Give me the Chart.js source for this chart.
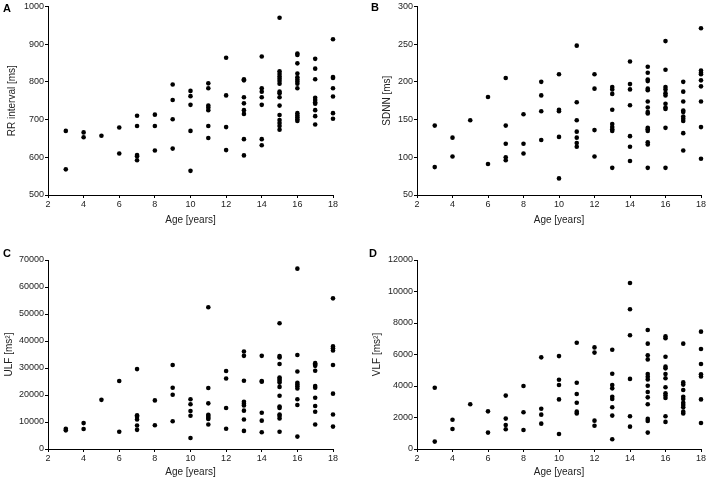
<!DOCTYPE html>
<html>
<head>
<meta charset="utf-8">
<title>HRV by age</title>
<script src="https://cdn.jsdelivr.net/npm/chart.js@4"></script>
<style>
    body { margin: 0; background: #fff; width: 708px; height: 481px; overflow: hidden; position: relative; }
    canvas { position: absolute; }
</style>
</head>
<body>
<canvas id="chartA" width="354" height="240" style="left:0;top:0"></canvas>
<canvas id="chartB" width="354" height="240" style="left:354px;top:0"></canvas>
<canvas id="chartC" width="354" height="241" style="left:0;top:240px"></canvas>
<canvas id="chartD" width="354" height="241" style="left:354px;top:240px"></canvas>
<script>
// ages on the x axis, one entry per column of dots
const ages = [3, 4, 5, 6, 7, 8, 9, 10, 11, 12, 13, 14, 15, 16, 17, 18];
const xTicks = [2, 4, 6, 8, 10, 12, 14, 16, 18];

// values per age (same order as ages)
const rrInterval = [
    [670, 568], [666, 653], [657], [679, 610], [710, 683, 606, 603, 592],
    [713, 683, 618], [793, 752, 701, 623], [776, 762, 739, 670, 564],
    [796, 783, 737, 732, 725, 683, 651], [864, 764, 680, 619],
    [807, 804, 759, 743, 725, 715, 648, 605], [867, 783, 774, 759, 739, 648, 632],
    [970, 828, 821, 814, 808, 802, 795, 774, 770, 759, 737, 712, 699, 691, 683, 673],
    [875, 871, 849, 822, 812, 806, 801, 795, 783, 717, 711, 706, 701, 696],
    [861, 835, 807, 758, 752, 746, 742, 725, 709, 687],
    [913, 813, 810, 783, 761, 717, 702]
];

const sdnn = [
    [142, 87], [126, 101], [149], [180, 91], [205, 142, 118, 100, 96],
    [157, 118, 105], [200, 182, 161, 123], [210, 163, 161, 127, 72],
    [248, 173, 149, 134, 126, 119, 114], [210, 191, 136, 101],
    [193, 190, 184, 163, 144, 140, 137, 135, 86], [227, 197, 190, 169, 128, 114, 95],
    [220, 212, 203, 201, 191, 189, 174, 166, 160, 158, 139, 137, 135, 120, 117, 86],
    [254, 216, 193, 190, 185, 182, 171, 166, 164, 139, 86],
    [200, 187, 174, 162, 160, 154, 151, 148, 132, 109],
    [271, 215, 212, 210, 202, 194, 174, 140, 98]
];

const ulf = [
    [7500, 6900], [9600, 7400], [18200], [25200, 6400], [29600, 12500, 11900, 10900, 8700, 7100],
    [18000, 8800], [31100, 22700, 20100, 10300], [18400, 16600, 14100, 12300, 4100],
    [52500, 22600, 16900, 12700, 12200, 11600, 11100, 9100], [28900, 26100, 15200, 7500],
    [36100, 34500, 25300, 17500, 16800, 16100, 14200, 10900, 6700],
    [34500, 25200, 24900, 13400, 10500, 6200],
    [46600, 34400, 33900, 31500, 26500, 25900, 25300, 24600, 23000, 19700, 15700, 15200, 12800, 12200, 11300, 6400],
    [66800, 34800, 28700, 24500, 23900, 23200, 22400, 18400, 16300, 4600],
    [31800, 31300, 30800, 29000, 23300, 22700, 19000, 15900, 13800, 9100],
    [55800, 38000, 37300, 36500, 31100, 20500, 12800, 8300]
];

const vlf = [
    [3890, 470], [1860, 1270], [2840], [2390, 1040], [3390, 1930, 1520, 1250],
    [4000, 2330, 1210], [5820, 2560, 2180, 1610], [5900, 4400, 4060, 3150, 950],
    [6750, 4210, 3490, 2940, 2370, 2260], [6450, 6120, 1800, 1480],
    [6300, 4780, 4060, 3850, 3320, 3170, 2650, 2120, 620],
    [10540, 8870, 7220, 4450, 2080, 1420],
    [7560, 6690, 5950, 5690, 4760, 4590, 4420, 4020, 3620, 3280, 2840, 1910, 1780, 1040],
    [7150, 7030, 5860, 5230, 5120, 4760, 4490, 3920, 3540, 3390, 3240, 2080, 1720],
    [6690, 4230, 4090, 3750, 3320, 3170, 2940, 2800, 2650, 2370, 2260],
    [7450, 6350, 5400, 4750, 4600, 3150, 1650]
];

document.addEventListener('DOMContentLoaded', function() {
    const FONT = '"Liberation Sans", Arial, sans-serif';
    const TEXT = '#222';

    // flatten per-age lists into {x, y} points
    function toPoints(valuesByAge) {
        const points = [];
        ages.forEach((age, i) => {
            valuesByAge[i].forEach(v => points.push({ x: age, y: v }));
        });
        return points;
    }

    // panel letter drawn in the top-left corner
    function letterPlugin(letter, x, y) {
        return {
            id: 'panelLetter',
            afterDraw(chart) {
                const ctx = chart.ctx;
                ctx.save();
                ctx.font = 'bold 11px ' + FONT;
                ctx.fillStyle = '#000';
                ctx.textBaseline = 'alphabetic';
                ctx.fillText(letter, x, y);
                ctx.restore();
            }
        };
    }

    function createScatter(cfg) {
        const ctx = document.getElementById(cfg.id).getContext('2d');
        const axisGrid = {
            display: true,
            drawOnChartArea: false,
            drawTicks: true,
            tickLength: 3,
            color: '#000',
            lineWidth: 1
        };

        new Chart(ctx, {
            type: 'scatter',
            data: {
                datasets: [{
                    data: toPoints(cfg.values),
                    backgroundColor: '#000',
                    borderWidth: 0,
                    pointRadius: 2.3,
                    pointHoverRadius: 2.3,
                    clip: false
                }]
            },
            options: {
                responsive: false,
                animation: false,
                devicePixelRatio: 1,
                layout: { padding: { top: cfg.padTop, right: cfg.padRight, left: 0, bottom: 0 } },
                plugins: { legend: { display: false }, tooltip: { enabled: false } },
                scales: {
                    x: {
                        type: 'linear',
                        min: 2,
                        max: 18,
                        afterBuildTicks: (scale) => { scale.ticks = xTicks.map(v => ({ value: v })); },
                        afterFit: (scale) => { scale.height = cfg.xHeight; },
                        grid: axisGrid,
                        border: { display: true, color: '#000', width: 1 },
                        ticks: { color: TEXT, font: { family: FONT, size: 9 }, padding: 1, maxRotation: 0,
                                 callback: (v) => String(v) },
                        title: {
                            display: true,
                            text: 'Age [years]',
                            color: TEXT,
                            font: { family: FONT, size: 10 },
                            padding: { top: 0, bottom: cfg.xTitlePad }
                        }
                    },
                    y: {
                        min: cfg.yMin,
                        max: cfg.yMax,
                        afterFit: (scale) => { scale.width = cfg.yWidth; },
                        grid: axisGrid,
                        border: { display: true, color: '#000', width: 1 },
                        ticks: { stepSize: cfg.yStep, color: TEXT, font: { family: FONT, size: 9 }, padding: 1,
                                 callback: (v) => String(v) },
                        title: {
                            display: true,
                            text: cfg.yTitle,
                            color: TEXT,
                            font: { family: FONT, size: 10 },
                            padding: { top: cfg.yTitlePad, bottom: 0 }
                        }
                    }
                }
            },
            plugins: [letterPlugin(cfg.letter, cfg.letterX, cfg.letterY)]
        });
    }

    createScatter({
        id: 'chartA', values: rrInterval, yMin: 500, yMax: 1000, yStep: 100,
        yTitle: 'RR interval [ms]', yWidth: 48, yTitlePad: 6, padTop: 6, padRight: 21,
        xHeight: 45, xTitlePad: 14, letter: 'A', letterX: 3, letterY: 12
    });
    createScatter({
        id: 'chartB', values: sdnn, yMin: 50, yMax: 300, yStep: 50,
        yTitle: 'SDNN [ms]', yWidth: 63, yTitlePad: 27, padTop: 6, padRight: 7,
        xHeight: 45, xTitlePad: 14, letter: 'B', letterX: 17, letterY: 11
    });
    createScatter({
        id: 'chartC', values: ulf, yMin: 0, yMax: 70000, yStep: 10000,
        yTitle: 'ULF [ms²]', yWidth: 48, yTitlePad: 3, padTop: 20, padRight: 21,
        xHeight: 32, xTitlePad: 3, letter: 'C', letterX: 3, letterY: 17
    });
    createScatter({
        id: 'chartD', values: vlf, yMin: 0, yMax: 12000, yStep: 2000,
        yTitle: 'VLF [ms²]', yWidth: 63, yTitlePad: 17, padTop: 20, padRight: 7,
        xHeight: 32, xTitlePad: 3, letter: 'D', letterX: 15, letterY: 17
    });
});
</script>
</body>
</html>
